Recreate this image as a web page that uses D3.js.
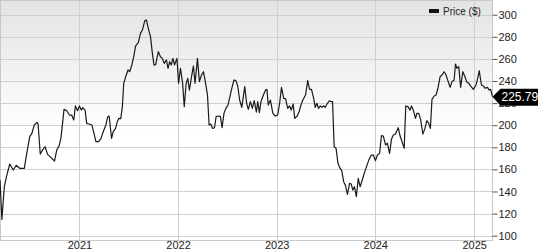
<!DOCTYPE html>
<html lang="en">
<head>
    <meta charset="UTF-8">
    <title>Price ($)</title>
    <style>
        body { margin: 0; background: #fff; }
        svg { display: block; font-family: Arial, "Liberation Sans", sans-serif; }
        .grid line { stroke: #cfcfcf; stroke-width: 1px; shape-rendering: crispEdges; }
        .axis text { font-size: 11px; fill: #222; }
        .price-line { fill: none; stroke: #1a1a1a; stroke-width: 1.2px; stroke-linejoin: round; }
    </style>
    <script src="https://d3js.org/d3.v7.min.js"></script>
</head>
<body>
<div id="chart"></div>
<script>
    // weekly closes
    const dates = [
        "2020-03-13","2020-03-20","2020-03-29","2020-04-06","2020-04-18","2020-05-01","2020-05-12","2020-05-25",
        "2020-06-11","2020-06-18","2020-07-01","2020-07-09","2020-07-18","2020-07-28","2020-08-01","2020-08-09",
        "2020-08-19","2020-08-27","2020-09-05","2020-09-14","2020-10-01","2020-10-09","2020-10-18","2020-10-25",
        "2020-11-05","2020-11-15","2020-11-25","2020-12-03","2020-12-11","2020-12-17","2020-12-25","2021-01-01",
        "2021-01-08","2021-01-13","2021-01-22","2021-01-28","2021-02-06","2021-02-16","2021-02-24","2021-03-03",
        "2021-03-13","2021-03-22","2021-03-30","2021-04-09","2021-04-16","2021-04-21","2021-04-30","2021-05-06",
        "2021-05-15","2021-05-21","2021-05-27","2021-06-03","2021-06-09","2021-06-14","2021-06-22","2021-06-30",
        "2021-07-06","2021-07-14","2021-07-21","2021-07-28","2021-08-07","2021-08-15","2021-08-22","2021-08-31",
        "2021-09-06","2021-09-13","2021-09-21","2021-09-28","2021-10-04","2021-10-10","2021-10-20","2021-10-28",
        "2021-11-04","2021-11-11","2021-11-19","2021-11-25","2021-12-01","2021-12-07","2021-12-13","2021-12-19",
        "2021-12-28","2022-01-03","2022-01-10","2022-01-18","2022-01-24","2022-01-31","2022-02-06","2022-02-12",
        "2022-02-20","2022-02-27","2022-03-05","2022-03-14","2022-03-21","2022-03-29","2022-04-05","2022-04-12",
        "2022-04-20","2022-04-26","2022-05-02","2022-05-09","2022-05-16","2022-05-22","2022-05-29","2022-06-07",
        "2022-06-13","2022-06-20","2022-06-27","2022-07-05","2022-07-12","2022-07-19","2022-07-27","2022-08-03",
        "2022-08-10","2022-08-17","2022-08-25","2022-09-05","2022-09-12","2022-09-18","2022-09-26","2022-10-03",
        "2022-10-10","2022-10-18","2022-10-23","2022-10-29","2022-11-04","2022-11-13","2022-11-21","2022-11-26",
        "2022-12-01","2022-12-09","2022-12-18","2022-12-27","2023-01-05","2023-01-12","2023-01-19","2023-01-27",
        "2023-02-03","2023-02-11","2023-02-18","2023-02-24","2023-03-03","2023-03-09","2023-03-18","2023-03-25",
        "2023-04-01","2023-04-08","2023-04-18","2023-04-26","2023-05-03","2023-05-10","2023-05-18","2023-05-24",
        "2023-05-30","2023-06-05","2023-06-11","2023-06-18","2023-06-24","2023-06-30","2023-07-08","2023-07-16",
        "2023-07-23","2023-07-27","2023-08-02","2023-08-09","2023-08-16","2023-08-24","2023-08-30","2023-09-06",
        "2023-09-12","2023-09-20","2023-09-28","2023-10-04","2023-10-10","2023-10-16","2023-10-23","2023-10-30",
        "2023-11-06","2023-11-14","2023-11-21","2023-12-01","2023-12-09","2023-12-18","2023-12-25","2024-01-02",
        "2024-01-09","2024-01-17","2024-01-24","2024-01-31","2024-02-08","2024-02-15","2024-02-23","2024-03-01",
        "2024-03-08","2024-03-16","2024-03-26","2024-04-02","2024-04-09","2024-04-17","2024-04-23","2024-05-01",
        "2024-05-09","2024-05-14","2024-05-21","2024-05-29","2024-06-03","2024-06-10","2024-06-17","2024-06-25",
        "2024-07-02","2024-07-10","2024-07-17","2024-07-23","2024-07-29","2024-08-06","2024-08-13","2024-08-20",
        "2024-08-28","2024-09-04","2024-09-12","2024-09-19","2024-09-27","2024-10-04","2024-10-11","2024-10-19",
        "2024-10-24","2024-10-29","2024-11-05","2024-11-12","2024-11-20","2024-11-27","2024-12-04","2024-12-12",
        "2024-12-19","2024-12-29","2025-01-08","2025-01-15","2025-01-20","2025-01-28","2025-02-04","2025-02-11",
        "2025-02-19","2025-02-26","2025-03-03","2025-03-10"
    ];
    const prices = [
        150.4,114.8,144.3,153.4,164.9,159.4,163.7,161.0,
        161.0,171.5,189.6,192.6,200.2,202.6,201.1,173.9,
        178.1,180.5,173.6,171.5,167.6,177.5,181.5,189.0,
        214.3,213.1,209.2,209.2,204.7,217.4,213.1,217.4,
        213.7,215.9,213.7,201.7,201.1,200.2,192.6,185.1,
        185.1,188.1,194.1,200.2,207.7,208.3,188.1,194.1,
        197.1,203.2,206.2,205.9,216.8,237.9,244.5,250.0,
        248.4,254.5,262.0,271.7,274.7,283.1,286.1,294.6,
        295.2,287.7,280.1,265.0,254.5,254.5,266.5,262.0,
        260.5,256.0,259.0,251.5,257.5,254.5,260.5,254.5,
        260.5,237.9,251.5,237.9,216.8,237.9,242.4,231.8,
        243.9,253.6,237.9,260.5,239.4,245.4,248.4,239.4,
        227.3,200.2,201.1,197.1,197.7,207.7,208.3,207.7,
        197.7,210.7,215.2,218.3,225.8,233.4,240.9,240.3,
        235.5,222.8,216.2,234.9,219.8,214.3,221.3,215.2,
        222.2,211.9,221.3,211.3,221.3,227.3,231.8,232.4,
        218.3,222.8,210.7,208.3,209.2,219.8,234.3,224.3,
        224.0,215.2,217.4,213.7,219.2,206.2,208.3,212.2,
        218.3,222.8,227.3,240.3,232.4,232.4,224.3,216.2,
        219.8,215.2,217.4,216.2,217.4,216.2,219.8,222.2,
        221.3,221.3,180.5,179.0,165.5,160.9,158.8,148.9,
        145.9,137.4,147.4,146.8,141.3,144.3,135.3,151.9,
        144.3,150.4,156.4,163.4,169.1,173.0,173.0,167.9,
        173.0,174.5,190.5,190.2,182.1,183.6,174.5,187.2,
        191.1,192.0,197.7,190.2,185.1,179.0,217.4,216.8,
        213.7,217.4,213.7,206.2,210.7,210.7,205.3,192.0,
        196.2,204.1,201.7,197.1,223.4,226.4,227.3,233.4,
        243.9,245.4,248.4,245.4,239.4,234.3,239.4,240.9,
        255.4,251.5,253.0,234.3,248.4,244.5,239.4,237.9,
        235.5,232.4,236.4,243.3,249.3,236.4,235.5,233.4,
        234.3,231.8,232.4,225.79
    ];
    const yTicks = [100, 120, 140, 160, 180, 200, 220, 240, 260, 280, 300];
    const yearTicks = ["2021-01-01", "2022-01-01", "2023-01-01", "2024-01-01", "2025-01-01"];
    const seriesName = "Price ($)";

    const width = 538, height = 250;
    const plotW = 492.5, plotH = 240;

    const parse = d3.timeParse("%Y-%m-%d");
    const data = dates.map((d, i) => ({ date: parse(d), value: prices[i] }));
    const last = data[data.length - 1];

    const x = d3.scaleTime()
        .domain(d3.extent(data, d => d.date))
        .range([0, plotW]);
    const y = d3.scaleLinear()
        .domain([96.1, 313.3])
        .range([plotH, 0]);

    const svg = d3.select("#chart").append("svg")
        .attr("width", width)
        .attr("height", height);

    const grad = svg.append("defs").append("linearGradient")
        .attr("id", "bg")
        .attr("x1", 0).attr("y1", 0).attr("x2", 0).attr("y2", 1);
    grad.append("stop").attr("offset", "0%").attr("stop-color", "#e3e3e3");
    grad.append("stop").attr("offset", "55%").attr("stop-color", "#ffffff");

    svg.append("rect")
        .attr("x", 0.5).attr("y", 0.5)
        .attr("width", plotW - 0.5).attr("height", plotH - 0.5)
        .attr("fill", "url(#bg)");

    // gridlines
    const grid = svg.append("g").attr("class", "grid");
    grid.selectAll(".h").data(yTicks).enter().append("line")
        .attr("x1", 0).attr("x2", plotW)
        .attr("y1", d => Math.round(y(d)) + 0.5)
        .attr("y2", d => Math.round(y(d)) + 0.5);
    grid.selectAll(".v").data(yearTicks.map(parse)).enter().append("line")
        .attr("y1", 0).attr("y2", plotH)
        .attr("x1", d => Math.round(x(d)) + 0.5)
        .attr("x2", d => Math.round(x(d)) + 0.5);

    // frame
    svg.append("rect")
        .attr("x", 0.5).attr("y", 0.5)
        .attr("width", plotW - 0.5).attr("height", plotH - 0.5)
        .attr("fill", "none")
        .attr("stroke", "#c8c8c8")
        .attr("shape-rendering", "crispEdges");

    // right axis
    const yAxis = svg.append("g")
        .attr("class", "axis")
        .attr("transform", `translate(${plotW},0)`)
        .call(d3.axisRight(y).tickValues(yTicks).tickSize(5).tickPadding(1));
    yAxis.select(".domain").remove();
    yAxis.selectAll(".tick line").attr("stroke", "#555");

    // bottom axis
    const xAxis = svg.append("g")
        .attr("class", "axis")
        .attr("transform", `translate(0,${plotH})`)
        .call(d3.axisBottom(x).tickValues(yearTicks.map(parse))
            .tickFormat(d3.timeFormat("%Y")).tickSize(0).tickPadding(0));
    xAxis.select(".domain").remove();
    xAxis.selectAll("text").attr("y", 1).attr("dy", "0.71em");

    // price line
    svg.append("path")
        .datum(data)
        .attr("class", "price-line")
        .attr("d", d3.line().x(d => x(d.date)).y(d => y(d.value)));

    // legend
    const legend = svg.append("g").attr("transform", "translate(429,9)");
    legend.append("rect").attr("width", 10).attr("height", 4).attr("fill", "#111");
    legend.append("text")
        .attr("x", 14).attr("y", 6)
        .attr("font-size", "10px").attr("fill", "#222")
        .text(seriesName);

    // last price callout
    const lx = x(last.date), ly = y(last.value);
    const callout = svg.append("g");
    callout.append("path")
        .attr("d", `M${lx},${ly} L${lx + 8},${ly - 8} L${width},${ly - 8} L${width},${ly + 9} L${lx + 8},${ly + 9} Z`)
        .attr("fill", "#000");
    callout.append("text")
        .attr("x", lx + 9).attr("y", ly + 4.5)
        .attr("font-size", "12px").attr("fill", "#fff")
        .text(d3.format(".2f")(last.value));
</script>
</body>
</html>
